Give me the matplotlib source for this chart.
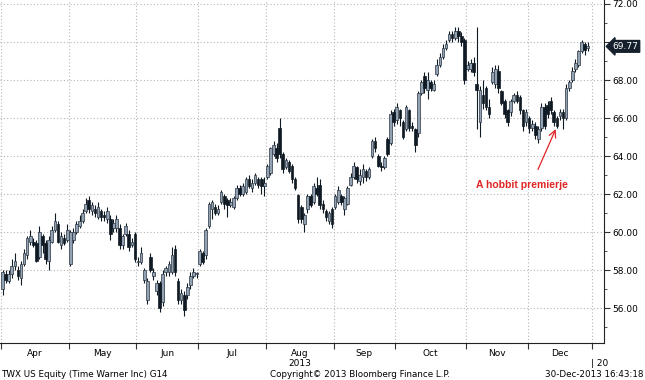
import numpy as np
import matplotlib.pyplot as plt
from matplotlib.transforms import blended_transform_factory

# TWX daily candles, Apr 1 - Dec 30 2013 (one entry per trading day)
months = ["Apr", "May", "Jun", "Jul", "Aug", "Sep", "Oct", "Nov", "Dec"]
month_days = [22, 22, 20, 22, 22, 20, 23, 20, 21]  # trading days per month (Dec incl. 31st)

opens = [
    57.0, 57.8, 57.4, 57.8, 58.2, 58.0, 57.6, 58.3, 58.8, 59.5, 59.5, 59.4, 58.7, 59.8, 59.4, 58.5, 59.5, 60.1, 60.4, 59.3, 59.7, 59.6,
    58.3, 59.6, 60.0, 60.3, 60.6, 61.1, 61.7, 61.1, 61.2, 60.8, 61.1, 60.9, 60.7, 60.7, 60.2, 60.2, 60.2, 59.3, 59.9, 59.9, 59.3, 59.9,
    58.4, 58.4, 57.5, 56.4, 58.7, 57.7, 56.9, 57.3, 56.3, 57.9, 57.9, 57.9, 59.1, 57.4, 56.4, 56.7, 56.7, 57.2, 57.7, 57.8,
    58.3, 58.9, 58.8, 60.3, 61.2, 61.3, 61.0, 61.6, 61.9, 61.7, 61.4, 61.3, 61.8, 62.3, 62.0, 62.1, 62.8, 62.3, 62.6, 62.8, 62.8, 62.4,
    62.9, 63.1, 64.1, 64.4, 65.5, 64.1, 63.4, 63.7, 63.5, 62.8, 61.95, 61.3, 60.4, 61.2, 61.9, 61.6, 62.3, 62.5, 61.5, 61.1, 60.6, 61.2,
    61.3, 61.6, 61.9, 61.2, 61.5, 62.5, 62.9, 63.4, 62.7, 62.9, 63.2, 62.9, 64.0, 64.8, 64.0, 63.5, 63.4, 64.9, 64.7, 66.3,
    65.9, 66.4, 65.8, 65.4, 66.4, 65.6, 65.4, 65.2, 67.3, 68.2, 67.5, 67.9, 67.5, 68.3, 68.8, 69.2, 69.7, 70.1, 70.4, 70.2, 70.6, 70.3, 70.1,
    68.6, 68.6, 68.9, 67.8, 65.8, 67.2, 67.6, 66.6, 67.9, 67.8, 68.5, 67.4, 66.9, 66.4, 66.3, 66.9, 67.2, 67.1, 66.4, 65.8,
    66.0, 65.5, 65.6, 64.9, 65.5, 66.6, 66.7, 66.9, 66.3, 66.0, 66.1, 66.3, 66.0, 67.6, 68.0, 68.6, 68.8, 69.5, 69.9, 69.7,
]
highs = [
    58.0, 58.0, 58.0, 58.6, 58.9, 58.2, 58.5, 59.1, 59.8, 60.1, 59.7, 59.6, 60.3, 59.9, 59.6, 59.8, 60.3, 61.0, 60.6, 60.0, 59.9, 60.4,
    60.1, 60.2, 60.6, 60.9, 61.2, 61.8, 61.9, 61.6, 61.4, 61.6, 61.2, 61.1, 61.3, 60.9, 60.7, 60.9, 60.4, 59.9, 60.5, 60.1, 59.7, 60.0,
    58.7, 59.2, 58.1, 57.6, 58.9, 58.1, 57.5, 57.4, 58.0, 58.2, 58.5, 59.2, 59.3, 57.6, 57.0, 56.9, 57.3, 57.9, 58.1, 57.9,
    59.1, 59.0, 60.2, 61.6, 61.7, 61.5, 61.4, 62.2, 62.0, 61.8, 61.8, 61.9, 62.5, 62.5, 62.6, 62.9, 63.0, 62.8, 63.1, 62.9, 62.9, 62.9,
    63.6, 64.5, 64.8, 64.7, 66.0, 64.2, 63.9, 63.8, 63.6, 62.9, 62.0, 61.4, 61.0, 62.0, 62.0, 62.6, 62.9, 62.8, 61.7, 61.2, 61.1, 61.3,
    62.0, 62.4, 62.0, 61.9, 62.4, 63.1, 63.7, 63.5, 63.3, 63.6, 63.3, 63.4, 64.9, 65.0, 64.1, 63.7, 64.0, 65.0, 66.4, 66.5,
    66.8, 66.5, 65.9, 66.7, 66.5, 65.8, 65.5, 67.4, 68.0, 68.4, 68.4, 68.0, 68.0, 69.1, 69.4, 69.9, 70.1, 70.6, 70.6, 70.8, 70.8, 70.5, 70.2,
    69.0, 69.1, 69.2, 70.8, 67.7, 68.0, 67.7, 67.0, 68.7, 68.8, 68.8, 67.5, 67.0, 66.5, 67.0, 67.3, 67.4, 67.2, 66.5, 66.5,
    66.1, 65.9, 65.8, 65.6, 66.8, 66.8, 66.9, 67.1, 66.4, 66.1, 66.5, 66.5, 67.8, 68.0, 68.7, 69.1, 69.6, 70.1, 70.0, 70.0,
]
lows = [
    56.7, 57.3, 57.3, 57.6, 58.0, 57.5, 57.2, 58.2, 58.6, 59.3, 59.2, 58.4, 58.6, 58.9, 58.3, 58.0, 59.4, 60.0, 59.4, 59.1, 59.3, 59.5,
    58.2, 59.4, 59.9, 60.2, 60.5, 61.0, 61.0, 60.9, 60.8, 60.7, 60.6, 60.6, 60.5, 59.6, 60.0, 60.0, 59.1, 59.1, 59.8, 59.0, 59.2, 58.4,
    58.2, 58.3, 57.3, 56.2, 57.9, 57.5, 56.7, 55.8, 56.1, 57.7, 57.7, 57.8, 57.7, 56.2, 56.2, 55.6, 56.5, 57.0, 57.6, 57.6,
    58.2, 58.3, 58.6, 60.2, 60.7, 60.9, 60.9, 61.5, 61.2, 60.8, 61.3, 61.2, 61.7, 61.9, 61.9, 62.0, 62.3, 62.1, 62.5, 62.3, 62.0, 61.9,
    62.8, 63.0, 64.0, 63.7, 63.9, 63.1, 63.3, 63.1, 62.6, 62.2, 60.5, 60.5, 60.0, 61.0, 61.3, 61.5, 61.9, 61.2, 61.0, 60.6, 60.4, 60.2,
    61.2, 61.5, 61.4, 60.9, 61.4, 62.4, 62.8, 62.6, 62.5, 62.6, 62.7, 62.8, 63.9, 64.2, 63.4, 63.2, 63.3, 64.0, 64.6, 65.6,
    65.7, 65.6, 64.9, 65.3, 65.3, 65.3, 64.2, 65.0, 67.2, 67.3, 67.0, 67.4, 67.4, 68.2, 68.7, 69.1, 69.6, 70.0, 70.0, 70.1, 70.0, 69.8, 67.8,
    68.5, 68.4, 68.2, 65.4, 65.0, 66.5, 66.4, 66.0, 67.8, 67.6, 67.3, 66.7, 66.0, 65.6, 66.1, 66.8, 66.8, 66.2, 65.3, 65.6,
    65.2, 65.3, 64.9, 64.7, 65.3, 65.4, 66.0, 66.2, 65.6, 65.5, 65.9, 65.4, 65.9, 67.4, 67.9, 68.4, 68.7, 69.4, 69.3, 69.5,
]
closes = [
    57.9, 57.5, 57.8, 58.2, 58.5, 57.7, 58.3, 58.9, 59.7, 59.8, 59.3, 58.5, 60.0, 59.3, 58.6, 59.6, 60.1, 60.6, 59.5, 59.8, 59.4, 60.1,
    60.0, 60.0, 60.4, 60.6, 61.0, 61.5, 61.2, 61.4, 61.0, 61.3, 60.8, 60.8, 61.1, 59.9, 60.5, 60.7, 59.3, 59.8, 60.3, 59.2, 59.5, 58.6,
    58.5, 58.9, 58.0, 57.4, 58.0, 57.9, 57.3, 56.0, 57.8, 58.1, 58.3, 58.8, 57.9, 56.4, 56.8, 55.9, 57.1, 57.7, 57.9, 57.8,
    59.0, 58.4, 60.1, 61.5, 61.6, 61.0, 61.2, 62.1, 61.5, 61.4, 61.6, 61.8, 62.3, 62.0, 62.4, 62.8, 62.4, 62.6, 63.0, 62.5, 62.4, 62.6,
    63.5, 64.4, 64.6, 63.9, 64.1, 63.3, 63.8, 63.2, 62.8, 62.3, 60.7, 60.7, 60.9, 61.9, 61.4, 62.4, 62.0, 61.4, 61.2, 60.8, 61.0, 60.4,
    61.9, 62.2, 61.6, 61.8, 62.3, 62.9, 63.5, 62.8, 63.0, 63.3, 62.9, 63.3, 64.8, 64.4, 63.5, 63.4, 63.9, 64.1, 66.2, 65.8,
    66.6, 66.0, 65.0, 66.6, 65.5, 65.5, 64.6, 67.3, 67.9, 67.6, 68.0, 67.6, 67.8, 68.8, 69.2, 69.7, 69.9, 70.4, 70.2, 70.6, 70.3, 70.0, 68.0,
    68.8, 68.9, 68.4, 67.5, 67.5, 66.8, 66.6, 66.2, 68.4, 68.6, 67.6, 66.8, 66.2, 65.8, 66.9, 67.2, 66.9, 66.4, 65.6, 66.3,
    65.5, 65.7, 65.1, 65.4, 66.6, 65.6, 66.2, 66.4, 65.8, 65.6, 66.3, 66.0, 67.6, 67.9, 68.5, 68.9, 69.5, 70.0, 69.6, 69.77,
]

note_text = "A hobbit premierje"
note_day = 180  # Dec 16 candle the arrow points at

o = np.array(opens)
h = np.array(highs)
l = np.array(lows)
c = np.array(closes)
x = np.arange(len(c))
up = c >= o

fig = plt.figure(figsize=(6.45, 3.8), dpi=100)
ax = fig.add_axes([0, 37 / 380, 604 / 645, 343 / 380])

dark = "#101a24"
grey = "#93a2b2"

# wicks + bodies
ax.vlines(x, l, h, color=dark, lw=0.8, zorder=2)
body_lo = np.minimum(o, c)
body_h = np.maximum(np.abs(c - o), 0.06)
ax.bar(x[up], body_h[up], bottom=body_lo[up], width=0.85, color=grey,
       edgecolor="#2b3644", linewidth=0.5, zorder=3)
ax.bar(x[~up], body_h[~up], bottom=body_lo[~up], width=0.85, color=dark,
       edgecolor=dark, linewidth=0.5, zorder=3)

ax.set_xlim(-0.82, 195.3)
ax.set_ylim(54.16, 72.21)

# month boundaries on the trading-day axis
bounds = np.concatenate([[0], np.cumsum(month_days)]) - 0.5
centers = (bounds[:-1] + bounds[1:]) / 2
ax.set_xticks(bounds)
ax.set_xticklabels([])
ax.set_xticks(centers, minor=True)
ax.set_xticklabels(months, minor=True)
ax.tick_params(axis="x", which="major", length=4, direction="out", color="#333333")
ax.tick_params(axis="x", which="minor", length=0, labelsize=6.5, pad=4)

ax.yaxis.tick_right()
yt = np.arange(56, 73, 2)
ax.set_yticks(yt)
ax.set_yticks(np.arange(55, 73, 1), minor=True)
# the 70.00 label sits under the last-price box
ax.set_yticklabels(["" if v == 70 else "%.2f" % v for v in yt])
ax.tick_params(axis="y", which="major", length=4, direction="out", labelsize=6.5, pad=2, color="#333333")
ax.tick_params(axis="y", which="minor", length=2, direction="out", color="#333333")

ax.grid(True, which="major", color="#b5b5b5", linestyle=(0, (1, 2)), linewidth=0.8)
ax.set_axisbelow(True)

for side in ["left", "top"]:
    ax.spines[side].set_visible(False)
ax.spines["right"].set_color("#222222")
ax.spines["bottom"].set_color("#222222")

# last price box
trans = blended_transform_factory(ax.transAxes, ax.transData)
ax.text(1.014, c[-1], "%.2f" % c[-1], transform=trans, fontsize=6.5, color="white",
        va="center", ha="left",
        bbox=dict(boxstyle="larrow,pad=0.15", fc="#15202c", ec="#15202c"))

# annotation
ax.annotate("", xy=(note_day, l[note_day] + 0.05), xytext=(173.5, 63.16),
            arrowprops=dict(arrowstyle="->,head_length=0.5,head_width=0.25", color="#e02424", lw=0.9))
ax.text(168.7, 62.47, note_text, color="#e02424", fontsize=7.5, fontweight="bold",
        family="Liberation Sans", ha="center", va="center")

# year labels under the axis
below = blended_transform_factory(ax.transData, ax.transAxes)
ax.text(centers[4], -0.061, "2013", transform=below, fontsize=6.5, ha="center", va="center")
ax.text(bounds[-1] - 0.3, -0.061, "| 20", transform=below, fontsize=6.5, ha="left", va="center")

# footer
fig.text(0.002, 0.014, "TWX US Equity (Time Warner Inc) G14", fontsize=6.3, ha="left", va="center")
fig.text(0.558, 0.014, "Copyright\u00a9 2013 Bloomberg Finance L.P.", fontsize=6.3, ha="center", va="center")
fig.text(0.997, 0.014, "30-Dec-2013 16:43:18", fontsize=6.3, ha="right", va="center")

fig.savefig("out.png", dpi=100)
